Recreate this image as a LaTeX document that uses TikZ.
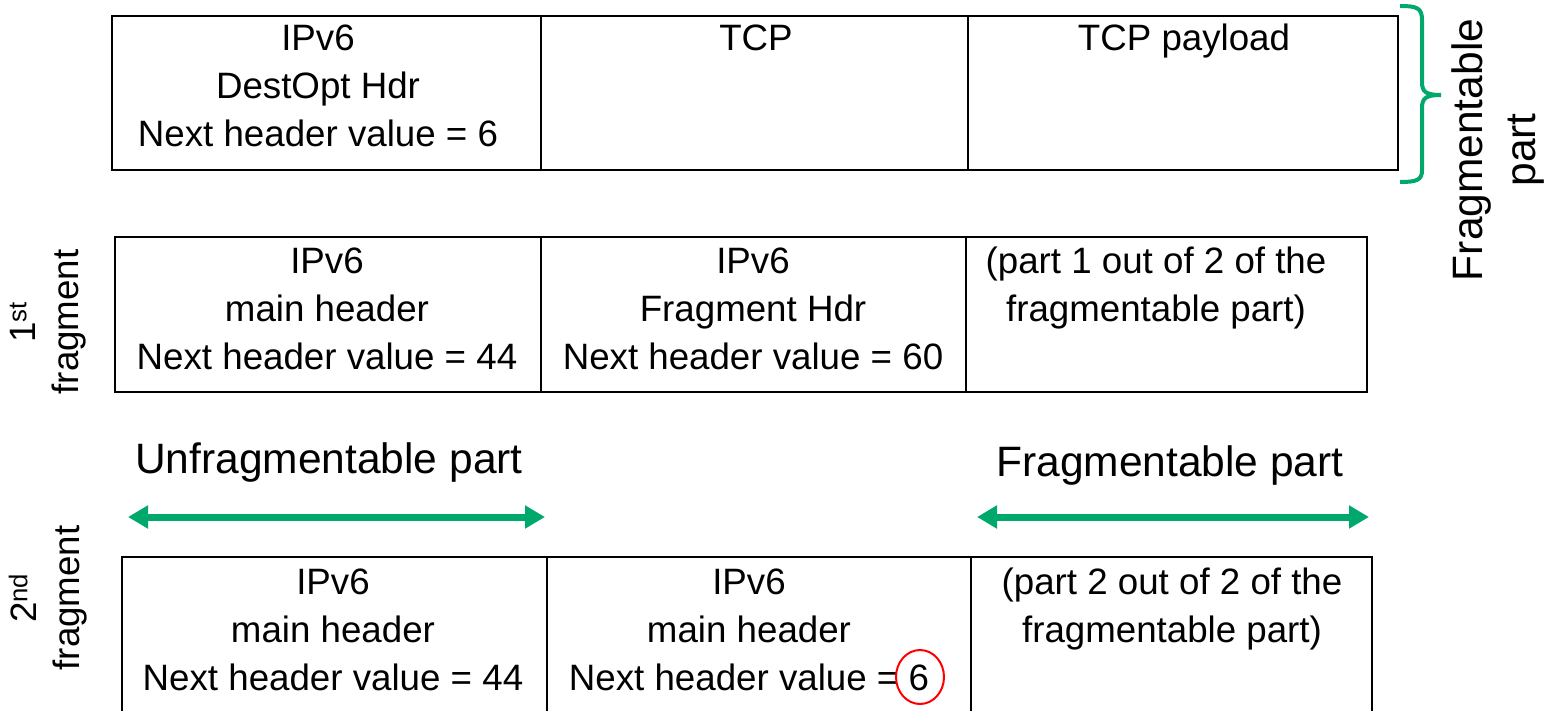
\documentclass[tikz,border=0pt]{standalone}
\usepackage{fontspec}
\setmainfont{Liberation Sans}
\usetikzlibrary{arrows.meta,shapes.geometric}
\definecolor{fgreen}{RGB}{0,168,107}
\begin{document}
\begin{tikzpicture}[x=1pt,y=-1pt,
  hbox/.style={draw=black, line width=2pt, anchor=north west, inner sep=0pt, outer sep=0pt},
  txt/.style={align=center, anchor=base, inner sep=0pt, font=\fontsize{36.7}{48}\selectfont},
  biglab/.style={anchor=base, inner sep=0pt, font=\fontsize{42.5}{53}\selectfont},
  sidelab/.style={align=center, rotate=90, inner sep=0pt, font=\fontsize{36.7}{43}\selectfont},
  garrow/.style={fgreen, line width=7pt, {Triangle[length=20pt,width=22pt]}-{Triangle[length=20pt,width=22pt]}},
]
\useasboundingbox (0,0) rectangle (1546,711);

% Row 1
\node[hbox, minimum width=429pt, minimum height=154pt] (a1) at (112,16) {};
\node[hbox, minimum width=427pt, minimum height=154pt] (a2) at (541,16) {};
\node[hbox, minimum width=430pt, minimum height=154pt] (a3) at (968,16) {};
\node[txt] (ta1) at (318,147) {IPv6\\DestOpt Hdr\\Next header value = 6};
\node[txt] (ta2) at (756,51) {TCP};
\node[txt] (ta3) at (1184,51) {TCP payload};

% Brace
\draw[fgreen, line width=4pt] (1400,6) .. controls (1417,6) and (1422,8) .. (1422,20) -- (1422,82) .. controls (1422,92) and (1426,95) .. (1441,95) .. controls (1426,95) and (1422,98) .. (1422,108) -- (1422,170) .. controls (1422,180) and (1417,182) .. (1400,182);
\node[sidelab, font=\fontsize{42.5}{53}\selectfont] (fp) at (1498,150) {Fragmentable\\part};

% Row 2
\node[hbox, minimum width=426pt, minimum height=155pt] (b1) at (115,237) {};
\node[hbox, minimum width=425pt, minimum height=155pt] (b2) at (541,237) {};
\node[hbox, minimum width=401pt, minimum height=155pt] (b3) at (966,237) {};
\node[txt] (tb1) at (327,369) {IPv6\\main header\\Next header value = 44};
\node[txt] (tb2) at (753,369) {IPv6\\Fragment Hdr\\Next header value = 60};
\node[txt] (tb3) at (1156,321) {(part 1 out of 2 of the\\fragmentable part)};
\node[sidelab] (f1) at (48,322) {1\textsuperscript{st}\\fragment};

% Labels and arrows
\node[biglab] (ul) at (329,473) {Unfragmentable part};
\node[biglab] (fl) at (1170,476) {Fragmentable part};
\coordinate (l1) at (128,517);
\coordinate (l2) at (545,517);
\coordinate (r1) at (977,517);
\coordinate (r2) at (1369,517);
\draw[garrow] (l1) -- (l2);
\draw[garrow] (r1) -- (r2);

% Row 3
\node[hbox, minimum width=425pt, minimum height=160pt] (c1) at (122,557) {};
\node[hbox, minimum width=424pt, minimum height=160pt] (c2) at (547,557) {};
\node[hbox, minimum width=401pt, minimum height=160pt] (c3) at (971,557) {};
\node[txt] (tc1) at (333,690) {IPv6\\main header\\Next header value = 44};
\node[txt] (tc2) at (749,690) {IPv6\\main header\\Next header value = 6};
\node[txt] (tc3) at (1172,642) {(part 2 out of 2 of the\\fragmentable part)};
\node[sidelab] (f2) at (48,598) {2\textsuperscript{nd}\\fragment};
\node[draw=red, line width=2pt, ellipse, minimum width=48pt, minimum height=54pt, inner sep=0pt] (circ) at (920,677) {};
\end{tikzpicture}
\end{document}
